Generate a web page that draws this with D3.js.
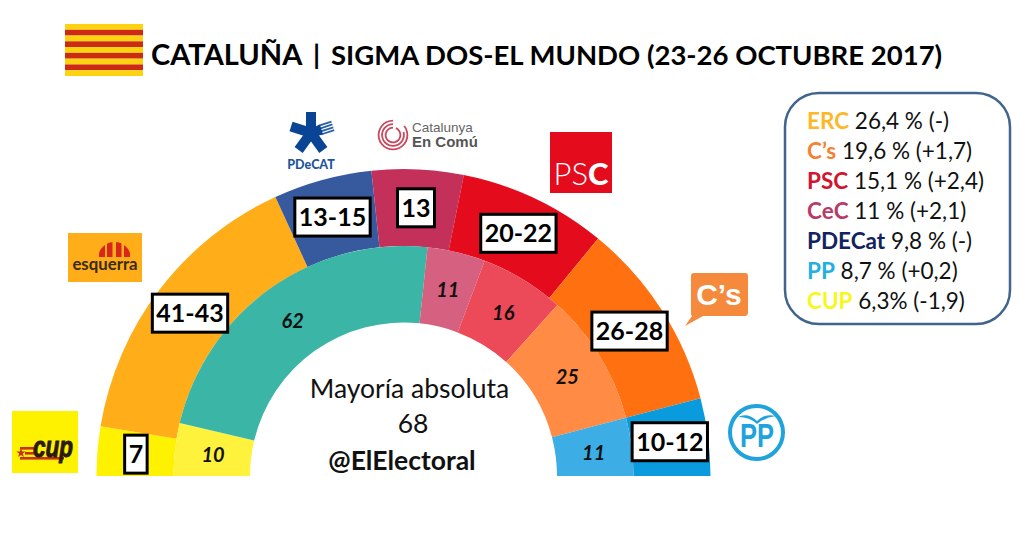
<!DOCTYPE html>
<html lang="en">
<head>
<meta charset="UTF-8">
<title>Cataluña Sigma Dos</title>
<script src="https://d3js.org/d3.v7.min.js"></script>
<style>
	body { margin: 0; background: #fff; }
	svg { display: block; font-family: Lato, "Open Sans", sans-serif; }
</style>
</head>
<body>
<svg id="chart" width="1025" height="533"></svg>
<script>
// seats: the outer ring is the poll (middle of each range), the inner ring the previous result
var outerParties = ["CUP", "ERC", "PDeCAT", "CeC", "PSC", "Cs", "PP"];
var outerSeats = [7, 42, 14, 13, 21, 27, 11];
var outerLabels = ["7", "41-43", "13-15", "13", "20-22", "26-28", "10-12"];
var outerColors = ["#fff200", "#ffae1a", "#375a9e", "#c3305a", "#e30b1c", "#ff7110", "#0a9bde"];

var innerSeats = [10, 62, 11, 16, 25, 11];
var innerLabels = ["10", "62", "11", "16", "25", "11"];
var innerColors = ["#fff23d", "#3ab5a6", "#d5607f", "#ec4a59", "#ff8b45", "#3daee5"];

var legendNames = ["ERC", "C’s", "PSC", "CeC", "PDECat", "PP", "CUP"];
var legendValues = ["26,4 % (-)", "19,6 % (+1,7)", "15,1 % (+2,4)", "11 % (+2,1)", "9,8 % (-)", "8,7 % (+0,2)", "6,3% (-1,9)"];
var legendColors = ["#fdb827", "#f58233", "#d3142f", "#b83a68", "#12235f", "#22b0e0", "#f7f71c"];

var svg = d3.select("#chart");
var cx = 403.5, cy = 476;

var pie = d3.pie().sort(null).startAngle(-Math.PI / 2).endAngle(Math.PI / 2);
var outerArc = d3.arc().innerRadius(230).outerRadius(307);
var innerArc = d3.arc().innerRadius(153.5).outerRadius(230);

var plot = svg.append("g").attr("transform", "translate(" + cx + "," + cy + ")");

plot.selectAll("path.outer")
	.data(pie(outerSeats))
	.enter().append("path")
	.attr("class", "outer")
	.attr("d", outerArc)
	.attr("fill", function (d, i) { return outerColors[i]; });

plot.selectAll("path.inner")
	.data(pie(innerSeats))
	.enter().append("path")
	.attr("class", "inner")
	.attr("d", innerArc)
	.attr("fill", function (d, i) { return innerColors[i]; });

// italic numbers on the inner ring
plot.selectAll("text.inner")
	.data(pie(innerSeats))
	.enter().append("text")
	.attr("class", "inner")
	.attr("transform", function (d) { return "translate(" + innerArc.centroid(d) + ")"; })
	.attr("text-anchor", "middle")
	.attr("dy", "0.4em")
	.style("font-size", "20px")
	.style("font-weight", 700)
	.style("font-style", "italic")
	.attr("fill", "#111")
	.text(function (d, i) { return innerLabels[i]; });

// boxed ranges on the outer ring, box is sized from its text
var boxes = plot.selectAll("g.box")
	.data(pie(outerSeats))
	.enter().append("g")
	.attr("class", "box")
	.attr("transform", function (d) { return "translate(" + outerArc.centroid(d) + ")"; });

boxes.append("rect");
boxes.append("text")
	.attr("text-anchor", "middle")
	.attr("dy", "0.36em")
	.style("font-size", "25px")
	.style("font-weight", 700)
	.attr("fill", "#000")
	.text(function (d, i) { return outerLabels[i]; });
boxes.each(function () {
	var g = d3.select(this);
	var w = g.select("text").node().getComputedTextLength();
	g.select("rect")
		.attr("x", -w / 2 - 4).attr("y", -19)
		.attr("width", w + 8).attr("height", 38)
		.attr("fill", "#fff").attr("stroke", "#000").attr("stroke-width", 3);
});

// centre text
function centreText(txt, x, y, weight) {
	svg.append("text").attr("x", x).attr("y", y)
		.attr("text-anchor", "middle")
		.style("font-size", "26.5px").style("font-weight", weight)
		.attr("fill", "#111").text(txt);
}
centreText("Mayoría absoluta", 409.5, 398, 400);
centreText("68", 413, 433, 400);
centreText("@ElElectoral", 402, 470, 700);

// title
var title = svg.append("text").attr("y", 65).style("font-weight", 700).attr("fill", "#000");
title.append("tspan").attr("x", 151).style("font-size", "29px").text("CATALUÑA");
title.append("tspan").attr("x", 313).style("font-size", "27.5px").text("|");
title.append("tspan").attr("x", 331).style("font-size", "27.5px").text("SIGMA DOS-EL MUNDO (23-26 OCTUBRE 2017)");

// flag
var flagStripes = d3.range(9);
var flagY = d3.scaleBand().domain(flagStripes).range([24, 76]);
svg.selectAll("rect.flag").data(flagStripes).enter().append("rect")
	.attr("class", "flag")
	.attr("x", 65).attr("width", 78)
	.attr("y", function (d) { return flagY(d); })
	.attr("height", flagY.bandwidth())
	.attr("fill", function (d) { return d % 2 ? "#cc2a12" : "#fdd20e"; });

// legend
svg.append("rect").attr("x", 785).attr("y", 93).attr("width", 225).attr("height", 231).attr("rx", 34)
	.attr("fill", "#fff").attr("stroke", "#41648e").attr("stroke-width", 2.5);
var legendY = d3.scalePoint().domain(d3.range(legendNames.length)).range([129, 309]);
var rows = svg.selectAll("text.legend").data(legendNames).enter().append("text")
	.attr("class", "legend")
	.attr("x", 807)
	.attr("y", function (d, i) { return legendY(i); })
	.style("font-size", "22.5px")
	.attr("fill", "#111");
rows.append("tspan").style("font-weight", 700)
	.attr("fill", function (d, i) { return legendColors[i]; })
	.text(function (d) { return d; });
rows.append("tspan").text(function (d, i) { return " " + legendValues[i]; });

// party logos, hand drawn
// PDeCAT
var pd = svg.append("g").attr("transform", "translate(311,133)");
[0, 144, 216, 288].forEach(function (a) {
	pd.append("rect").attr("x", -5).attr("y", -21).attr("width", 10).attr("height", 23)
		.attr("fill", "#0a4595")
		.attr("transform", "rotate(" + a + ")");
});
// the striped arm
[-4.5, -1.5, 1.5, 4.5].forEach(function (s) {
	pd.append("rect").attr("x", s - 0.9).attr("y", -23).attr("width", 1.8).attr("height", 14)
		.attr("fill", "#2a62a8")
		.attr("transform", "rotate(72)");
});
pd.append("rect").attr("x", -5).attr("y", -11).attr("width", 10).attr("height", 12)
	.attr("fill", "#0a4595").attr("transform", "rotate(72)");
svg.append("text").attr("x", 311).attr("y", 169).attr("text-anchor", "middle")
	.style("font-size", "12.5px").style("font-weight", 900).attr("fill", "#1f55a0").text("PDeCAT");

// En Comu
[[13.5, 0.9], [10, 1.3], [6.5, 0.4]].forEach(function (r) {
	svg.append("path")
		.attr("transform", "translate(393,135)")
		.attr("d", d3.arc().innerRadius(r[0]).outerRadius(r[0] + 1.8).startAngle(r[1]).endAngle(2 * Math.PI)())
		.attr("fill", "#c9485b");
});
svg.append("text").attr("x", 412).attr("y", 132).style("font-family", "'Liberation Sans'").style("font-size", "13.5px").attr("fill", "#666").text("Catalunya");
svg.append("text").attr("x", 412).attr("y", 147).style("font-family", "'Liberation Sans'").style("font-size", "15px").style("font-weight", 700).attr("fill", "#555").text("En Comú");

// PSC
svg.append("rect").attr("x", 550).attr("y", 132).attr("width", 62).attr("height", 61).attr("fill", "#e30b1c");
var psc = svg.append("text").attr("x", 581).attr("y", 185).attr("text-anchor", "middle").style("font-size", "31px").attr("fill", "#fff");
psc.append("tspan").style("font-weight", 300).text("PS");
psc.append("tspan").style("font-weight", 900).text("C");

// esquerra
svg.append("rect").attr("x", 68).attr("y", 233).attr("width", 74).attr("height", 49).attr("fill", "#ffae1a");
svg.append("clipPath").attr("id", "dome").append("ellipse")
	.attr("cx", 114.5).attr("cy", 257).attr("rx", 16).attr("ry", 15);
[[99, 6], [107, 5.5], [116, 5.5], [124, 6]].forEach(function (b) {
	svg.append("rect").attr("x", b[0]).attr("y", 240).attr("width", b[1]).attr("height", 17)
		.attr("fill", "#d8261c").attr("clip-path", "url(#dome)");
});
svg.append("text").attr("x", 105).attr("y", 270).attr("text-anchor", "middle")
	.style("font-size", "16.8px").style("font-weight", 700).attr("fill", "#3a2a10").text("esquerra");

// C's bubble
svg.append("path").attr("d", "M694,273H745Q748,273 748,276V312Q748,316 745,316H703L685,326L692,316Q691,316 691,312V276Q691,273 694,273Z").attr("fill", "#f58a3c");
svg.append("text").attr("x", 719).attr("y", 305).attr("text-anchor", "middle")
	.style("font-family", "'Liberation Sans'").style("font-size", "30px").style("font-weight", 700).attr("fill", "#fff").text("C’s");

// PP
svg.append("circle").attr("cx", 756.5).attr("cy", 432.5).attr("r", 26.5).attr("fill", "#fff").attr("stroke", "#1ea3dc").attr("stroke-width", 4);
svg.append("text").attr("x", 740).attr("y", 447)
	.attr("textLength", 34).attr("lengthAdjust", "spacingAndGlyphs")
	.style("font-family", "'Liberation Sans'").style("font-size", "34px").style("font-weight", 700).attr("fill", "#1ea3dc").text("PP");
svg.append("path").attr("d", "M738,417Q748,412 757,421Q764,413 776,416Q765,417 757,424Q750,417 738,417Z").attr("fill", "#1ea3dc");

// CUP
svg.append("rect").attr("x", 12).attr("y", 411).attr("width", 66).attr("height", 62).attr("fill", "#fff200");
[[20, 447, 14], [25, 452, 9], [20, 457, 44]].forEach(function (b) {
	svg.append("rect").attr("x", b[0]).attr("y", b[1]).attr("width", b[2]).attr("height", 2.6).attr("fill", "#c8301c");
});
svg.append("path").attr("transform", "translate(21,453)").attr("d", d3.symbol(d3.symbolStar, 28)()).attr("fill", "#c8301c");
svg.append("text").attr("x", 33).attr("y", 457)
	.attr("textLength", 40).attr("lengthAdjust", "spacingAndGlyphs")
	.style("font-family", "'Liberation Sans'").style("font-size", "30px").style("font-weight", 700).style("font-style", "italic")
	.attr("fill", "#2a1a10").attr("stroke", "#2a1a10").attr("stroke-width", 1).text("cup");
</script>
</body>
</html>
